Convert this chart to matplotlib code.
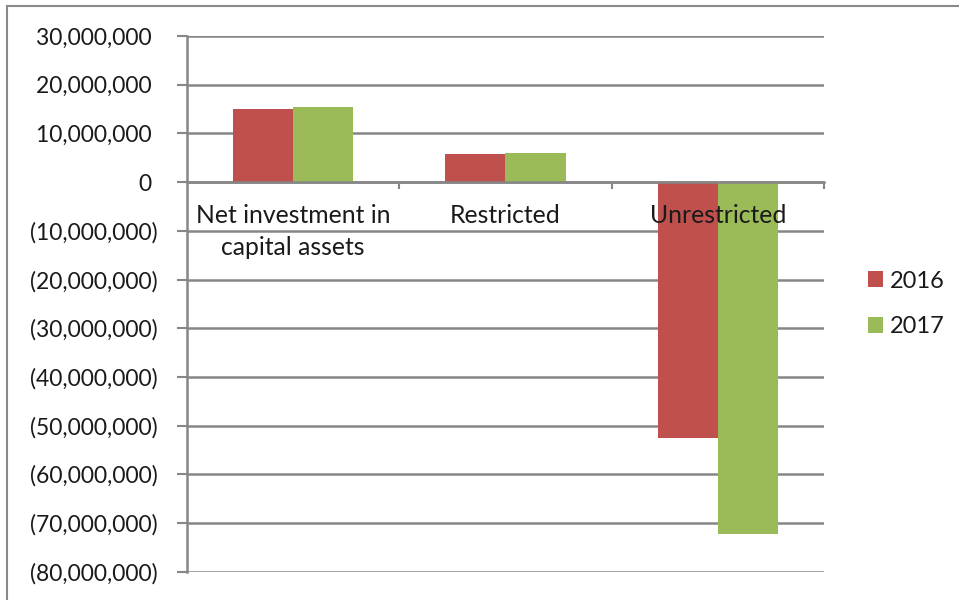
import matplotlib.pyplot as plt
import numpy as np
from matplotlib.patches import Rectangle
from matplotlib.ticker import FuncFormatter, FixedLocator

categories = ["Net investment in\ncapital assets", "Restricted", "Unrestricted"]
years = ["2016", "2017"]
vals_2016 = [15000000, 5750000, -52500000]
vals_2017 = [15500000, 6050000, -72200000]
yticks = np.arange(-80000000, 30000001, 10000000)

red = "#C0504D"
green = "#9BBB59"
grey = "#868686"
txt = "#1a1a1a"

plt.rcParams["font.family"] = ["Lato", "DejaVu Sans"]
plt.rcParams["font.size"] = 16.5

fig = plt.figure(figsize=(9.59, 6.0), dpi=100)
ax = fig.add_axes([187/959, 1-571.7/600, (824-187)/959, (571.7-36)/600])

# outer chart frame
fig.patches.append(Rectangle((7/959, -0.05), 1.1, 1.05-6/600, transform=fig.transFigure,
                             fill=False, edgecolor="#8a8a8a", lw=1.5))

x = np.arange(len(categories))
w = 60/212.3
ax.bar(x - w/2, vals_2016, w, color=red, label=years[0], zorder=2)
ax.bar(x + w/2, vals_2017, w, color=green, label=years[1], zorder=2)

ax.set_xlim(-0.5, 2.5)
ax.set_ylim(yticks[0], yticks[-1])
ax.set_yticks(yticks)

def fmt(v, pos):
    if v < 0:
        return "({:,.0f})".format(-v)
    return "{:,.0f} ".format(v)

ax.yaxis.set_major_formatter(FuncFormatter(fmt))
ax.tick_params(axis="y", length=7, width=1.5, color=grey, pad=14, labelcolor=txt)
ax.yaxis.grid(True, color=grey, lw=1.8)
ax.set_axisbelow(True)

for s in ["top", "right"]:
    ax.spines[s].set_visible(False)
ax.spines["left"].set_color(grey)
ax.spines["left"].set_linewidth(1.8)
ax.spines["bottom"].set_position(("data", 0))
ax.spines["bottom"].set_color(grey)
ax.spines["bottom"].set_linewidth(1.8)

ax.set_xticks(x)
ax.set_xticklabels([])
ax.tick_params(axis="x", which="major", length=0)
ax.xaxis.set_minor_locator(FixedLocator([0.5, 1.5, 2.5]))
ax.tick_params(axis="x", which="minor", length=5, width=1.5, color=grey, direction="out")

for i, c in enumerate(categories):
    ax.annotate(c, (i, 0), xytext=(0, -16), textcoords="offset points",
                ha="center", va="top", color=txt, linespacing=1.45, zorder=5,
                fontsize=17.8)

fig.legend(loc="center left", bbox_to_anchor=(856/959, 1-304/600), frameon=False,
           borderpad=0, handlelength=0.65, handleheight=0.65, handletextpad=0.3,
           labelspacing=1.05, labelcolor=txt, fontsize=17)

fig.savefig("out.png", dpi=100)
